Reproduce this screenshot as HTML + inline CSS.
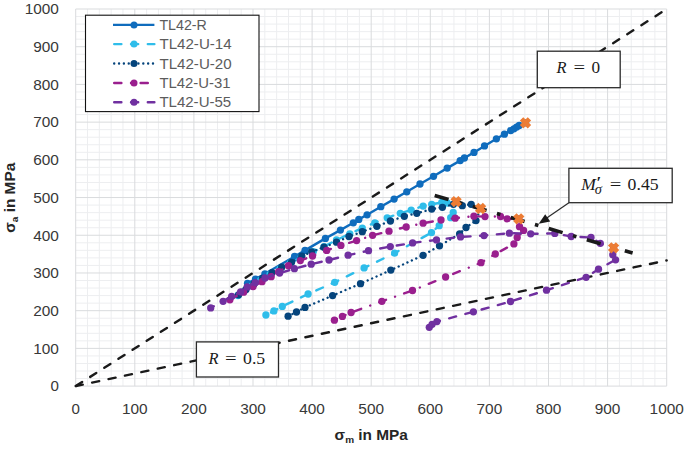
<!DOCTYPE html>
<html lang="en"><head><meta charset="utf-8"><title>Haigh diagram TL42</title>
<style>html,body{margin:0;padding:0;background:#fff}body{width:685px;height:449px;overflow:hidden}svg{display:block}text{font-family:"Liberation Sans",sans-serif}.m{font-family:"Liberation Serif",serif}</style>
</head><body>
<svg width="685" height="449" viewBox="0 0 685 449">
<rect width="685" height="449" fill="#fff"/>
<path d="M87.52 9.00V386.10M75.70 378.56H666.70M99.34 9.00V386.10M75.70 371.02H666.70M111.16 9.00V386.10M75.70 363.47H666.70M122.98 9.00V386.10M75.70 355.93H666.70M146.62 9.00V386.10M75.70 340.85H666.70M158.44 9.00V386.10M75.70 333.31H666.70M170.26 9.00V386.10M75.70 325.76H666.70M182.08 9.00V386.10M75.70 318.22H666.70M205.72 9.00V386.10M75.70 303.14H666.70M217.54 9.00V386.10M75.70 295.60H666.70M229.36 9.00V386.10M75.70 288.05H666.70M241.18 9.00V386.10M75.70 280.51H666.70M264.82 9.00V386.10M75.70 265.43H666.70M276.64 9.00V386.10M75.70 257.89H666.70M288.46 9.00V386.10M75.70 250.34H666.70M300.28 9.00V386.10M75.70 242.80H666.70M323.92 9.00V386.10M75.70 227.72H666.70M335.74 9.00V386.10M75.70 220.18H666.70M347.56 9.00V386.10M75.70 212.63H666.70M359.38 9.00V386.10M75.70 205.09H666.70M383.02 9.00V386.10M75.70 190.01H666.70M394.84 9.00V386.10M75.70 182.47H666.70M406.66 9.00V386.10M75.70 174.92H666.70M418.48 9.00V386.10M75.70 167.38H666.70M442.12 9.00V386.10M75.70 152.30H666.70M453.94 9.00V386.10M75.70 144.76H666.70M465.76 9.00V386.10M75.70 137.21H666.70M477.58 9.00V386.10M75.70 129.67H666.70M501.22 9.00V386.10M75.70 114.59H666.70M513.04 9.00V386.10M75.70 107.05H666.70M524.86 9.00V386.10M75.70 99.50H666.70M536.68 9.00V386.10M75.70 91.96H666.70M560.32 9.00V386.10M75.70 76.88H666.70M572.14 9.00V386.10M75.70 69.34H666.70M583.96 9.00V386.10M75.70 61.79H666.70M595.78 9.00V386.10M75.70 54.25H666.70M619.42 9.00V386.10M75.70 39.17H666.70M631.24 9.00V386.10M75.70 31.63H666.70M643.06 9.00V386.10M75.70 24.08H666.70M654.88 9.00V386.10M75.70 16.54H666.70" stroke="#edeef0" stroke-width="1" fill="none"/>
<path d="M75.70 9.00V386.10M75.70 386.10H666.70M134.80 9.00V386.10M75.70 348.39H666.70M193.90 9.00V386.10M75.70 310.68H666.70M253.00 9.00V386.10M75.70 272.97H666.70M312.10 9.00V386.10M75.70 235.26H666.70M371.20 9.00V386.10M75.70 197.55H666.70M430.30 9.00V386.10M75.70 159.84H666.70M489.40 9.00V386.10M75.70 122.13H666.70M548.50 9.00V386.10M75.70 84.42H666.70M607.60 9.00V386.10M75.70 46.71H666.70M666.70 9.00V386.10M75.70 9.00H666.70" stroke="#d9dbdd" stroke-width="1" fill="none"/>
<text x="58.9" y="391.40" font-size="15.5" text-anchor="end" fill="#383838" textLength="8.4" lengthAdjust="spacingAndGlyphs">0</text>
<text x="75.70" y="414" font-size="15.5" text-anchor="middle" fill="#383838" textLength="8.4" lengthAdjust="spacingAndGlyphs">0</text>
<text x="58.9" y="353.69" font-size="15.5" text-anchor="end" fill="#383838" textLength="25.7" lengthAdjust="spacingAndGlyphs">100</text>
<text x="134.80" y="414" font-size="15.5" text-anchor="middle" fill="#383838" textLength="25.7" lengthAdjust="spacingAndGlyphs">100</text>
<text x="58.9" y="315.98" font-size="15.5" text-anchor="end" fill="#383838" textLength="25.7" lengthAdjust="spacingAndGlyphs">200</text>
<text x="193.90" y="414" font-size="15.5" text-anchor="middle" fill="#383838" textLength="25.7" lengthAdjust="spacingAndGlyphs">200</text>
<text x="58.9" y="278.27" font-size="15.5" text-anchor="end" fill="#383838" textLength="25.7" lengthAdjust="spacingAndGlyphs">300</text>
<text x="253.00" y="414" font-size="15.5" text-anchor="middle" fill="#383838" textLength="25.7" lengthAdjust="spacingAndGlyphs">300</text>
<text x="58.9" y="240.56" font-size="15.5" text-anchor="end" fill="#383838" textLength="25.7" lengthAdjust="spacingAndGlyphs">400</text>
<text x="312.10" y="414" font-size="15.5" text-anchor="middle" fill="#383838" textLength="25.7" lengthAdjust="spacingAndGlyphs">400</text>
<text x="58.9" y="202.85" font-size="15.5" text-anchor="end" fill="#383838" textLength="25.7" lengthAdjust="spacingAndGlyphs">500</text>
<text x="371.20" y="414" font-size="15.5" text-anchor="middle" fill="#383838" textLength="25.7" lengthAdjust="spacingAndGlyphs">500</text>
<text x="58.9" y="165.14" font-size="15.5" text-anchor="end" fill="#383838" textLength="25.7" lengthAdjust="spacingAndGlyphs">600</text>
<text x="430.30" y="414" font-size="15.5" text-anchor="middle" fill="#383838" textLength="25.7" lengthAdjust="spacingAndGlyphs">600</text>
<text x="58.9" y="127.43" font-size="15.5" text-anchor="end" fill="#383838" textLength="25.7" lengthAdjust="spacingAndGlyphs">700</text>
<text x="489.40" y="414" font-size="15.5" text-anchor="middle" fill="#383838" textLength="25.7" lengthAdjust="spacingAndGlyphs">700</text>
<text x="58.9" y="89.72" font-size="15.5" text-anchor="end" fill="#383838" textLength="25.7" lengthAdjust="spacingAndGlyphs">800</text>
<text x="548.50" y="414" font-size="15.5" text-anchor="middle" fill="#383838" textLength="25.7" lengthAdjust="spacingAndGlyphs">800</text>
<text x="58.9" y="52.01" font-size="15.5" text-anchor="end" fill="#383838" textLength="25.7" lengthAdjust="spacingAndGlyphs">900</text>
<text x="607.60" y="414" font-size="15.5" text-anchor="middle" fill="#383838" textLength="25.7" lengthAdjust="spacingAndGlyphs">900</text>
<text x="58.9" y="14.30" font-size="15.5" text-anchor="end" fill="#383838" textLength="34.2" lengthAdjust="spacingAndGlyphs">1000</text>
<text x="666.70" y="414" font-size="15.5" text-anchor="middle" fill="#383838" textLength="34.2" lengthAdjust="spacingAndGlyphs">1000</text>
<text transform="translate(334.6 439.5) scale(1.054 1)" font-size="14.6" font-weight="bold" fill="#262626">σ<tspan font-size="9.5" dy="3.4">m</tspan><tspan dy="-3.4"> in MPa</tspan></text>
<text transform="translate(14.8 232.7) rotate(-90) scale(1.054 1)" font-size="14.6" font-weight="bold" fill="#262626">σ<tspan font-size="9.5" dy="3.4">a</tspan><tspan dy="-3.4"> in MPa</tspan></text>
<path d="M75.70 386.10L666.70 9.00" stroke="#1a1a1a" stroke-width="2.4" stroke-dasharray="7.2 9.565" stroke-dashoffset="-0.4" stroke-linecap="round" fill="none"/>
<path d="M75.70 386.10L666.70 260.40" stroke="#1a1a1a" stroke-width="2.4" stroke-dasharray="7.2 9.575" stroke-linecap="round" fill="none"/>
<g fill="#0f6cbd" stroke="none"><path d="M247.5 283.3L255.5 279.1L264.9 273.8L294.6 256.5L305.0 250.4L325.4 238.4L340.4 230.1L353.3 222.8L358.8 219.4L367.1 214.8L380.8 206.7L394.1 199.1L406.8 191.8L420.0 184.0L433.5 176.3L447.2 168.1L460.2 160.6L464.4 158.0L474.0 152.4L484.5 145.9L496.4 138.8L504.4 134.2L510.7 130.6L513.9 128.8L516.6 127.1L519.2 125.5L525.5 122.8" fill="none" stroke="#0f6cbd" stroke-width="2.4" stroke-linejoin="round"/>
<circle cx="247.5" cy="283.3" r="3.65"/><circle cx="255.5" cy="279.1" r="3.65"/><circle cx="264.9" cy="273.8" r="3.65"/><circle cx="294.6" cy="256.5" r="3.65"/><circle cx="305.0" cy="250.4" r="3.65"/><circle cx="325.4" cy="238.4" r="3.65"/><circle cx="340.4" cy="230.1" r="3.65"/><circle cx="353.3" cy="222.8" r="3.65"/><circle cx="358.8" cy="219.4" r="3.65"/><circle cx="367.1" cy="214.8" r="3.65"/><circle cx="380.8" cy="206.7" r="3.65"/><circle cx="394.1" cy="199.1" r="3.65"/><circle cx="406.8" cy="191.8" r="3.65"/><circle cx="420.0" cy="184.0" r="3.65"/><circle cx="433.5" cy="176.3" r="3.65"/><circle cx="447.2" cy="168.1" r="3.65"/><circle cx="460.2" cy="160.6" r="3.65"/><circle cx="464.4" cy="158.0" r="3.65"/><circle cx="474.0" cy="152.4" r="3.65"/><circle cx="484.5" cy="145.9" r="3.65"/><circle cx="496.4" cy="138.8" r="3.65"/><circle cx="504.4" cy="134.2" r="3.65"/><circle cx="510.7" cy="130.6" r="3.65"/><circle cx="513.9" cy="128.8" r="3.65"/><circle cx="516.6" cy="127.1" r="3.65"/><circle cx="519.2" cy="125.5" r="3.65"/><circle cx="525.5" cy="122.8" r="3.65"/></g>
<g fill="#2fbdea" stroke="none"><path d="M265.9 315.0L273.9 310.9L282.3 306.4L308.1 294.0L334.7 282.3L364.1 267.9L394.6 253.1L431.5 232.6L439.2 225.7L450.7 217.7L453.2 212.5L456.1 201.6L447.2 203.0L441.8 202.5L431.7 204.3L423.1 206.1L411.2 210.1L400.3 213.3L387.2 217.8L374.8 222.8L362.3 228.1L349.8 233.8L336.5 240.0L324.0 246.6L313.4 251.6L301.0 257.5L290.5 263.0L280.0 268.8L270.0 274.5L260.5 280.5L252.0 286.0L244.0 291.5L238.0 295.5" fill="none" stroke="#2fbdea" stroke-width="2.4" stroke-linejoin="round" stroke-dasharray="7.2 9.6" stroke-linecap="round" stroke-dashoffset="11.1"/>
<circle cx="265.9" cy="315.0" r="3.65"/><circle cx="273.9" cy="310.9" r="3.65"/><circle cx="282.3" cy="306.4" r="3.65"/><circle cx="308.1" cy="294.0" r="3.65"/><circle cx="334.7" cy="282.3" r="3.65"/><circle cx="364.1" cy="267.9" r="3.65"/><circle cx="394.6" cy="253.1" r="3.65"/><circle cx="431.5" cy="232.6" r="3.65"/><circle cx="439.2" cy="225.7" r="3.65"/><circle cx="450.7" cy="217.7" r="3.65"/><circle cx="453.2" cy="212.5" r="3.65"/><circle cx="456.1" cy="201.6" r="3.65"/><circle cx="447.2" cy="203.0" r="3.65"/><circle cx="441.8" cy="202.5" r="3.65"/><circle cx="431.7" cy="204.3" r="3.65"/><circle cx="423.1" cy="206.1" r="3.65"/><circle cx="411.2" cy="210.1" r="3.65"/><circle cx="400.3" cy="213.3" r="3.65"/><circle cx="387.2" cy="217.8" r="3.65"/><circle cx="374.8" cy="222.8" r="3.65"/><circle cx="362.3" cy="228.1" r="3.65"/><circle cx="349.8" cy="233.8" r="3.65"/><circle cx="336.5" cy="240.0" r="3.65"/><circle cx="324.0" cy="246.6" r="3.65"/><circle cx="313.4" cy="251.6" r="3.65"/><circle cx="301.0" cy="257.5" r="3.65"/><circle cx="290.5" cy="263.0" r="3.65"/><circle cx="280.0" cy="268.8" r="3.65"/><circle cx="270.0" cy="274.5" r="3.65"/><circle cx="260.5" cy="280.5" r="3.65"/><circle cx="252.0" cy="286.0" r="3.65"/><circle cx="244.0" cy="291.5" r="3.65"/><circle cx="238.0" cy="295.5" r="3.65"/></g>
<g fill="#05447c" stroke="none"><path d="M288.1 316.2L296.5 312.0L305.0 307.4L332.6 295.6L360.5 283.7L390.8 270.1L423.1 255.3L439.5 245.8L459.6 233.9L466.0 227.5L476.0 220.6L480.4 208.5L471.2 204.3L462.3 205.7L453.4 204.3L442.4 207.3L431.7 209.1L416.8 213.3L404.3 216.3L390.4 221.0L376.9 226.3L362.3 231.7L349.0 236.5L336.5 242.2L324.0 247.2L311.7 251.8L301.8 256.2L291.5 262.3L281.7 267.2L272.0 272.6L262.5 278.5L254.0 284.0L246.0 289.5L238.6 294.8" fill="none" stroke="#05447c" stroke-width="2.4" stroke-linejoin="round" stroke-dasharray="0.01 4.84" stroke-linecap="round" stroke-dashoffset="0"/>
<circle cx="288.1" cy="316.2" r="3.65"/><circle cx="296.5" cy="312.0" r="3.65"/><circle cx="305.0" cy="307.4" r="3.65"/><circle cx="332.6" cy="295.6" r="3.65"/><circle cx="360.5" cy="283.7" r="3.65"/><circle cx="390.8" cy="270.1" r="3.65"/><circle cx="423.1" cy="255.3" r="3.65"/><circle cx="439.5" cy="245.8" r="3.65"/><circle cx="459.6" cy="233.9" r="3.65"/><circle cx="466.0" cy="227.5" r="3.65"/><circle cx="476.0" cy="220.6" r="3.65"/><circle cx="480.4" cy="208.5" r="3.65"/><circle cx="471.2" cy="204.3" r="3.65"/><circle cx="462.3" cy="205.7" r="3.65"/><circle cx="453.4" cy="204.3" r="3.65"/><circle cx="442.4" cy="207.3" r="3.65"/><circle cx="431.7" cy="209.1" r="3.65"/><circle cx="416.8" cy="213.3" r="3.65"/><circle cx="404.3" cy="216.3" r="3.65"/><circle cx="390.4" cy="221.0" r="3.65"/><circle cx="376.9" cy="226.3" r="3.65"/><circle cx="362.3" cy="231.7" r="3.65"/><circle cx="349.0" cy="236.5" r="3.65"/><circle cx="336.5" cy="242.2" r="3.65"/><circle cx="324.0" cy="247.2" r="3.65"/><circle cx="311.7" cy="251.8" r="3.65"/><circle cx="301.8" cy="256.2" r="3.65"/><circle cx="291.5" cy="262.3" r="3.65"/><circle cx="281.7" cy="267.2" r="3.65"/><circle cx="272.0" cy="272.6" r="3.65"/><circle cx="262.5" cy="278.5" r="3.65"/><circle cx="254.0" cy="284.0" r="3.65"/><circle cx="246.0" cy="289.5" r="3.65"/><circle cx="238.6" cy="294.8" r="3.65"/></g>
<g fill="#9a1f8e" stroke="none"><path d="M334.4 320.2L342.4 316.4L351.1 312.5L381.9 301.3L412.5 290.5L445.6 277.0L481.0 262.7L495.3 254.0L513.9 243.9L517.2 237.5L523.6 230.4L519.5 226.7L518.8 218.8L507.1 218.8L500.5 216.5L485.0 216.6L473.9 216.2L455.2 218.2L441.0 220.0L423.1 223.2L406.2 227.0L389.0 231.2L372.6 235.3L356.6 240.6L340.9 245.4L326.7 250.4L312.5 256.0L300.3 260.6L288.5 265.7L278.7 271.7L271.2 276.7L262.0 281.7L253.0 286.5L243.6 292.2L229.9 299.8" fill="none" stroke="#9a1f8e" stroke-width="2.4" stroke-linejoin="round" stroke-dasharray="7.2 9.6 0.01 9.6" stroke-linecap="round" stroke-dashoffset="4.5"/>
<circle cx="334.4" cy="320.2" r="3.65"/><circle cx="342.4" cy="316.4" r="3.65"/><circle cx="351.1" cy="312.5" r="3.65"/><circle cx="381.9" cy="301.3" r="3.65"/><circle cx="412.5" cy="290.5" r="3.65"/><circle cx="445.6" cy="277.0" r="3.65"/><circle cx="481.0" cy="262.7" r="3.65"/><circle cx="495.3" cy="254.0" r="3.65"/><circle cx="513.9" cy="243.9" r="3.65"/><circle cx="517.2" cy="237.5" r="3.65"/><circle cx="523.6" cy="230.4" r="3.65"/><circle cx="519.5" cy="226.7" r="3.65"/><circle cx="518.8" cy="218.8" r="3.65"/><circle cx="507.1" cy="218.8" r="3.65"/><circle cx="500.5" cy="216.5" r="3.65"/><circle cx="485.0" cy="216.6" r="3.65"/><circle cx="473.9" cy="216.2" r="3.65"/><circle cx="455.2" cy="218.2" r="3.65"/><circle cx="441.0" cy="220.0" r="3.65"/><circle cx="423.1" cy="223.2" r="3.65"/><circle cx="406.2" cy="227.0" r="3.65"/><circle cx="389.0" cy="231.2" r="3.65"/><circle cx="372.6" cy="235.3" r="3.65"/><circle cx="356.6" cy="240.6" r="3.65"/><circle cx="340.9" cy="245.4" r="3.65"/><circle cx="326.7" cy="250.4" r="3.65"/><circle cx="312.5" cy="256.0" r="3.65"/><circle cx="300.3" cy="260.6" r="3.65"/><circle cx="288.5" cy="265.7" r="3.65"/><circle cx="278.7" cy="271.7" r="3.65"/><circle cx="271.2" cy="276.7" r="3.65"/><circle cx="262.0" cy="281.7" r="3.65"/><circle cx="253.0" cy="286.5" r="3.65"/><circle cx="243.6" cy="292.2" r="3.65"/><circle cx="229.9" cy="299.8" r="3.65"/></g>
<g fill="#7030a0" stroke="none"><path d="M429.3 327.3L432.1 324.3L436.9 321.6L473.4 311.8L510.5 301.5L546.5 290.2L586.1 277.3L598.5 269.2L615.6 259.8L612.8 254.7L613.6 247.8L600.3 243.3L591.0 237.5L571.2 236.5L554.8 233.4L530.7 233.8L509.4 233.2L484.0 235.6L460.5 236.9L436.5 239.9L412.6 242.9L390.3 246.6L368.5 250.7L348.1 255.2L329.0 260.0L311.2 264.2L294.4 268.7L279.6 273.1L265.0 278.0L255.2 282.6L247.2 286.9L240.6 291.8L231.7 296.3L223.1 301.3L210.7 307.9" fill="none" stroke="#7030a0" stroke-width="2.4" stroke-linejoin="round" stroke-dasharray="7.2 9.6" stroke-linecap="round" stroke-dashoffset="11.3"/>
<circle cx="429.3" cy="327.3" r="3.65"/><circle cx="432.1" cy="324.3" r="3.65"/><circle cx="436.9" cy="321.6" r="3.65"/><circle cx="473.4" cy="311.8" r="3.65"/><circle cx="510.5" cy="301.5" r="3.65"/><circle cx="546.5" cy="290.2" r="3.65"/><circle cx="586.1" cy="277.3" r="3.65"/><circle cx="598.5" cy="269.2" r="3.65"/><circle cx="615.6" cy="259.8" r="3.65"/><circle cx="612.8" cy="254.7" r="3.65"/><circle cx="613.6" cy="247.8" r="3.65"/><circle cx="600.3" cy="243.3" r="3.65"/><circle cx="591.0" cy="237.5" r="3.65"/><circle cx="571.2" cy="236.5" r="3.65"/><circle cx="554.8" cy="233.4" r="3.65"/><circle cx="530.7" cy="233.8" r="3.65"/><circle cx="509.4" cy="233.2" r="3.65"/><circle cx="484.0" cy="235.6" r="3.65"/><circle cx="460.5" cy="236.9" r="3.65"/><circle cx="436.5" cy="239.9" r="3.65"/><circle cx="412.6" cy="242.9" r="3.65"/><circle cx="390.3" cy="246.6" r="3.65"/><circle cx="368.5" cy="250.7" r="3.65"/><circle cx="348.1" cy="255.2" r="3.65"/><circle cx="329.0" cy="260.0" r="3.65"/><circle cx="311.2" cy="264.2" r="3.65"/><circle cx="294.4" cy="268.7" r="3.65"/><circle cx="279.6" cy="273.1" r="3.65"/><circle cx="265.0" cy="278.0" r="3.65"/><circle cx="255.2" cy="282.6" r="3.65"/><circle cx="247.2" cy="286.9" r="3.65"/><circle cx="240.6" cy="291.8" r="3.65"/><circle cx="231.7" cy="296.3" r="3.65"/><circle cx="223.1" cy="301.3" r="3.65"/><circle cx="210.7" cy="307.9" r="3.65"/></g>
<path d="M434.7 195.4L632.6 253" stroke="#1a1a1a" stroke-width="3.6" stroke-dasharray="14.4 10.8 3.6 10.8" fill="none"/>
<path d="M521.55 118.85L529.45 126.75M521.55 126.75L529.45 118.85" stroke="#ec7c34" stroke-width="4.8" fill="none"/>
<path d="M452.15 197.65L460.05 205.55M452.15 205.55L460.05 197.65" stroke="#ec7c34" stroke-width="4.8" fill="none"/>
<path d="M476.65 204.55L484.55 212.45M476.65 212.45L484.55 204.55" stroke="#ec7c34" stroke-width="4.8" fill="none"/>
<path d="M514.85 214.85L522.75 222.75M514.85 222.75L522.75 214.85" stroke="#ec7c34" stroke-width="4.8" fill="none"/>
<path d="M609.65 243.85L617.55 251.75M609.65 251.75L617.55 243.85" stroke="#ec7c34" stroke-width="4.8" fill="none"/>
<rect x="85.5" y="15.2" width="173.5" height="96.4" fill="#fff" stroke="#111" stroke-width="1.1"/>
<path d="M113 24.9H154.4" stroke="#0f6cbd" stroke-width="2.4" fill="none"/><circle cx="134" cy="24.9" r="3.5" fill="#0f6cbd"/>
<text x="159.4" y="29.9" font-size="14.3" fill="#5c5c5c" textLength="47.5" lengthAdjust="spacingAndGlyphs">TL42-R</text>
<path d="M113 44.1H154.4" stroke="#2fbdea" stroke-width="2.4" fill="none" stroke-dasharray="7.2 9.6" stroke-linecap="round" stroke-dashoffset="-1.2"/><circle cx="134" cy="44.1" r="3.5" fill="#2fbdea"/>
<text x="159.4" y="49.0" font-size="14.3" fill="#5c5c5c" textLength="72.3" lengthAdjust="spacingAndGlyphs">TL42-U-14</text>
<path d="M113 63.5H154.4" stroke="#05447c" stroke-width="2.4" fill="none" stroke-dasharray="0.01 4.84" stroke-linecap="round" stroke-dashoffset="-1.2"/><circle cx="134" cy="63.5" r="3.5" fill="#05447c"/>
<text x="159.4" y="68.5" font-size="14.3" fill="#5c5c5c" textLength="72.3" lengthAdjust="spacingAndGlyphs">TL42-U-20</text>
<path d="M113 83.0H154.4" stroke="#9a1f8e" stroke-width="2.4" fill="none" stroke-dasharray="7.2 9.6 0.01 9.6" stroke-linecap="round" stroke-dashoffset="-1.2"/><circle cx="134" cy="83.0" r="3.5" fill="#9a1f8e"/>
<text x="159.4" y="88.0" font-size="14.3" fill="#5c5c5c" textLength="71.2" lengthAdjust="spacingAndGlyphs">TL42-U-31</text>
<path d="M113 102.2H154.4" stroke="#7030a0" stroke-width="2.4" fill="none" stroke-dasharray="7.2 9.6" stroke-linecap="round" stroke-dashoffset="-1.2"/><circle cx="134" cy="102.2" r="3.5" fill="#7030a0"/>
<text x="159.4" y="107.4" font-size="14.3" fill="#5c5c5c" textLength="71.8" lengthAdjust="spacingAndGlyphs">TL42-U-55</text>
<rect x="537.3" y="51.2" width="82.9" height="36.5" fill="#fff" stroke="#2b2b2b" stroke-width="1.3"/>
<text class="m" y="73.4" font-size="17.2" fill="#1a1a1a"><tspan x="556.6" font-style="italic" textLength="10" lengthAdjust="spacingAndGlyphs">R</tspan><tspan x="573.6" textLength="11.6" lengthAdjust="spacingAndGlyphs">=</tspan><tspan x="591.5">0</tspan></text>
<rect x="196.4" y="341.9" width="82.1" height="35.1" fill="#fff" stroke="#2b2b2b" stroke-width="1.3"/>
<text class="m" y="363.7" font-size="17.2" fill="#1a1a1a"><tspan x="208.6" font-style="italic" textLength="10" lengthAdjust="spacingAndGlyphs">R</tspan><tspan x="225" textLength="11.6" lengthAdjust="spacingAndGlyphs">=</tspan><tspan x="243" textLength="22.2" lengthAdjust="spacingAndGlyphs">0.5</tspan></text>
<path d="M568.9 202.7L546 218.6" stroke="#2b2b2b" stroke-width="1.2" fill="none"/>
<path d="M538.7 223.8L545.2 214.2L550.2 221.4Z" fill="#1a1a1a"/>
<rect x="568.9" y="168.3" width="103.3" height="34.4" fill="#fff" stroke="#2b2b2b" stroke-width="1.3"/>
<text class="m" y="190.4" font-size="17.2" fill="#1a1a1a"><tspan x="581.3" font-style="italic" textLength="14.6" lengthAdjust="spacingAndGlyphs">M</tspan><tspan x="596.6" y="188.2" font-size="17" font-weight="bold">′</tspan><tspan x="594.8" y="193.9" font-size="14.5" font-style="italic">σ</tspan><tspan x="609.8" y="190.4" textLength="11.6" lengthAdjust="spacingAndGlyphs">=</tspan><tspan x="627.6" y="190.4" textLength="31" lengthAdjust="spacingAndGlyphs">0.45</tspan></text>
</svg></body></html>
